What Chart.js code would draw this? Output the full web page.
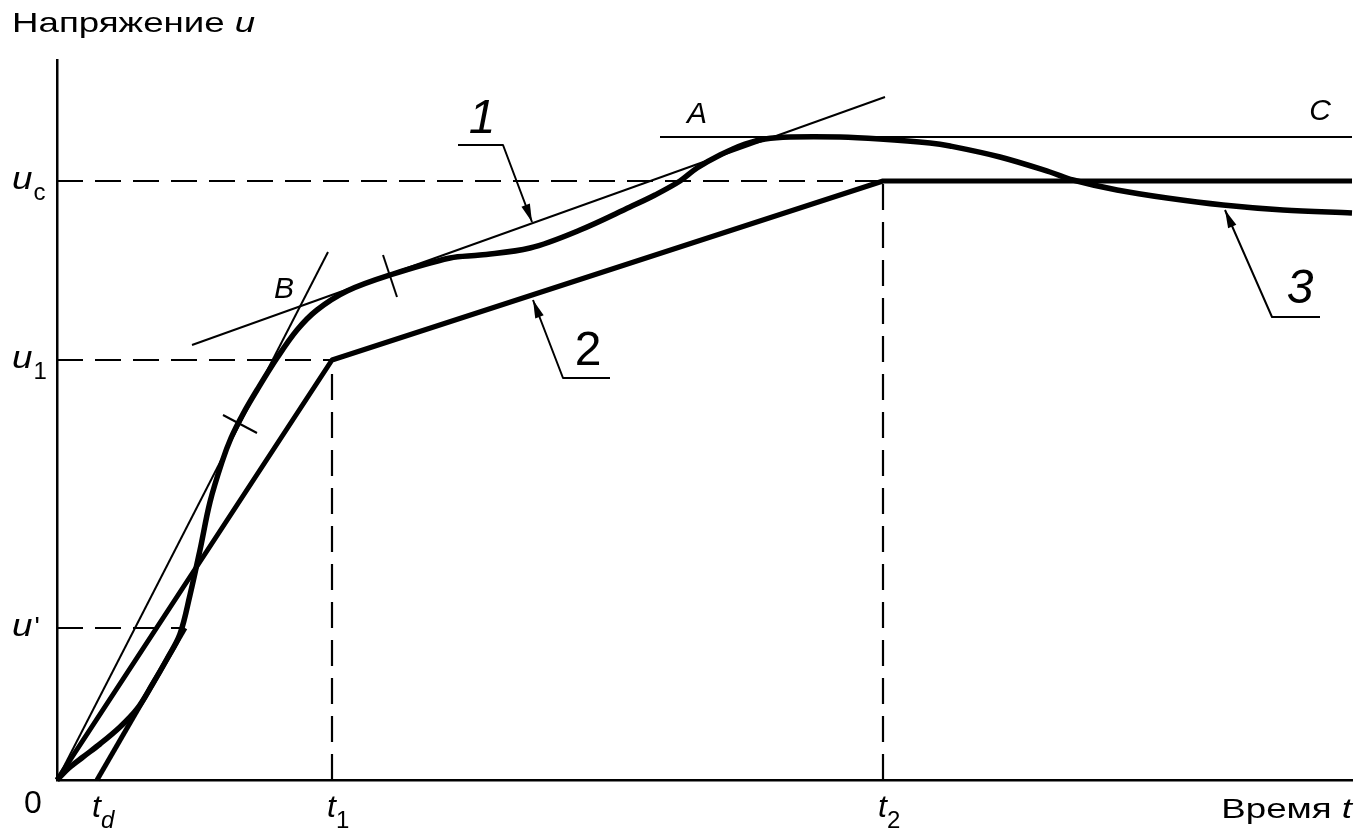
<!DOCTYPE html>
<html>
<head>
<meta charset="utf-8">
<script src="https://cdn.jsdelivr.net/npm/chart.js@4.4.1/dist/chart.umd.min.js"></script>
<style>
  html, body { margin: 0; padding: 0; background: #fff; }
  canvas { display: block; }
</style>
</head>
<body>
<canvas id="myChart" width="1362" height="833"></canvas>
<script>
// axes in arbitrary units
const tMax = 129.5, uMax = 72.0;
const tD = 4.0, t1 = 27.5, t2 = 82.6;
const uC = 59.9, u1 = 42.0, uP = 15.2;

// curve 3 - real voltage
const curveT = [0, 1.2, 2.6, 4.3, 6.3, 8.0, 9.5, 11.0, 12.3, 13.3, 14.3, 15.3, 16.5, 17.4, 18.6, 20.0, 22.0, 24.0, 26.0, 29.0, 33.3, 39.3,
  42.3, 47.3, 52.3, 57.3, 59.8, 62.3, 64.0, 66.3, 68.8, 70.8, 73.3, 78.3, 82.3, 87.3, 89.3, 94.3, 99.3, 101.6, 106.0, 111.0,
  116.6, 122.6, 129.5];
const curveU = [0, 1.2, 2.3, 3.6, 5.3, 7.1, 9.5, 12.1, 14.6, 18.5, 23.0, 27.8, 31.8, 34.2, 36.6, 39.0, 42.2, 45.0, 47.0, 48.9, 50.5, 52.2,
  52.5, 53.2, 55.0, 57.3, 58.5, 59.9, 61.2, 62.5, 63.6, 64.1, 64.3, 64.3, 64.1, 63.7, 63.4, 62.3, 60.8, 60.0, 59.0, 58.2,
  57.5, 57.0, 56.7];

// curve 2 - piecewise
const line2T = [0, t1, t2, tMax];
const line2U = [0, u1, uC, uC];

// ramp from t_d
const rampT = [tD, 12.8];
const rampU = [0, uP];

// thin tangents and level A-C
const steepT = [0, 27.1], steepU = [0, 52.8];
const shallowT = [13.5, 82.8], shallowU = [43.5, 68.3];
const levelT = [60.3, tMax], levelU = [64.3, 64.3];

// short marks across curve 3
const mark1T = [16.6, 20.0], mark1U = [36.5, 34.7];
const mark2T = [32.6, 34.0], mark2U = [52.5, 48.3];

// leaders (arrow at last point)
const lead1T = [40.1, 44.6, 47.5], lead1U = [63.5, 63.5, 55.8];
const lead2T = [55.3, 50.6, 47.6], lead2U = [40.2, 40.2, 48.0];
const lead3T = [126.3, 121.5, 116.8], lead3U = [46.3, 46.3, 57.0];

// tick labels
const tTicks = [tD, t1, t2], tNames = ['d', '1', '2'];
const uTicks = [uC, u1, uP], uNames = ['c', '1', "'"];

// notes on the plot
const noteText = ['1', '2', '3', 'A', 'B', 'C'];
const noteT = [42.5, 53.1, 124.3, 64.0, 22.7, 126.3];
const noteU = [66.0, 42.8, 49.0, 66.5, 49.0, 66.8];

const FONT = "'Liberation Sans', Arial, sans-serif";

function seg(xs, ys, width, extra) {
  return Object.assign({
    data: xs.map((x, i) => ({ x: x, y: ys[i] })),
    borderColor: '#000',
    borderWidth: width,
    pointRadius: 0,
    showLine: true,
    clip: false,
    tension: 0,
    borderJoinStyle: 'round'
  }, extra || {});
}

const dash = [26, 12];
const datasets = [
  seg([0, t2], [uC, uC], 2.2, { borderDash: dash }),
  seg([0, t1], [u1, u1], 2.2, { borderDash: dash }),
  seg([0, 12.6], [uP, uP], 2.2, { borderDash: dash }),
  seg([t1, t1], [0, u1], 2.2, { borderDash: dash }),
  seg([t2, t2], [0, uC], 2.2, { borderDash: dash }),
  seg(steepT, steepU, 2),
  seg(shallowT, shallowU, 2),
  seg(levelT, levelU, 2),
  seg(mark1T, mark1U, 2),
  seg(mark2T, mark2U, 2),
  seg(lead1T, lead1U, 2, { arrow: true }),
  seg(lead2T, lead2U, 2, { arrow: true }),
  seg(lead3T, lead3U, 2, { arrow: true }),
  seg(line2T, line2U, 5),
  seg(rampT, rampU, 5),
  seg(curveT, curveU, 5.5, { tension: 0.35 })
];

// arrow heads on leaders
const arrows = {
  id: 'arrows',
  afterDatasetsDraw(chart) {
    const ctx = chart.ctx;
    chart.data.datasets.forEach((ds, i) => {
      if (!ds.arrow) return;
      const pts = chart.getDatasetMeta(i).data;
      const a = pts[pts.length - 2], b = pts[pts.length - 1];
      const ang = Math.atan2(b.y - a.y, b.x - a.x);
      ctx.save();
      ctx.translate(b.x, b.y);
      ctx.rotate(ang);
      ctx.beginPath();
      ctx.moveTo(0, 0);
      ctx.lineTo(-18, -4.5);
      ctx.lineTo(-18, 4.5);
      ctx.closePath();
      ctx.fillStyle = '#000';
      ctx.fill();
      ctx.restore();
    });
  }
};

// text drawn with horizontal stretch, parts = [[text, font], ...]
function wide(ctx, parts, x, y, sx, align) {
  let total = 0;
  parts.forEach(p => { ctx.font = p[1]; total += ctx.measureText(p[0]).width * sx; });
  if (align === 'right') x -= total;
  parts.forEach(p => {
    ctx.font = p[1];
    const w = ctx.measureText(p[0]).width;
    ctx.save();
    ctx.translate(x, y);
    ctx.scale(sx, 1);
    ctx.fillText(p[0], 0, 0);
    ctx.restore();
    x += w * sx;
  });
}

const labels = {
  id: 'labels',
  afterDraw(chart) {
    const ctx = chart.ctx;
    const xs = chart.scales.x, ys = chart.scales.y;
    ctx.save();
    ctx.fillStyle = '#000';
    ctx.textAlign = 'left';
    ctx.textBaseline = 'alphabetic';

    // axis titles
    wide(ctx, [['Напряжение ', '28px ' + FONT], ['u', 'italic 28px ' + FONT]], 12, 32, 1.31);
    wide(ctx, [['Время ', '28px ' + FONT], ['t', 'italic 28px ' + FONT]], 1352, 818, 1.31, 'right');

    // u ticks
    uTicks.forEach((v, i) => {
      const py = ys.getPixelForValue(v);
      ctx.font = 'italic 32px ' + FONT;
      wide(ctx, [['u', 'italic 32px ' + FONT]], 12, py + 8, 1.15);
      const w = ctx.measureText('u').width * 1.15;
      if (uNames[i] === "'") {
        ctx.font = '28px ' + FONT;
        ctx.fillText("'", 12 + w + 2, py + 8);
      } else {
        ctx.font = '24px ' + FONT;
        ctx.fillText(uNames[i], 12 + w + 1, py + 19);
      }
    });

    // t ticks
    const y0 = ys.getPixelForValue(0);
    tTicks.forEach((v, i) => {
      const px = xs.getPixelForValue(v);
      ctx.font = 'italic 32px ' + FONT;
      const w = ctx.measureText('t').width;
      ctx.fillText('t', px + 4 - w, y0 + 37);
      ctx.font = (tNames[i] === 'd' ? 'italic ' : '') + '24px ' + FONT;
      ctx.fillText(tNames[i], px + 4, y0 + 48);
    });
    ctx.font = '32px ' + FONT;
    ctx.textAlign = 'center';
    ctx.fillText('0', xs.getPixelForValue(0) - 24, y0 + 33);

    // notes
    ctx.textBaseline = 'middle';
    noteText.forEach((s, i) => {
      const big = /[0-9]/.test(s);
      ctx.font = (s === '2' ? '' : 'italic ') + (big ? '48px ' : '30px ') + FONT;
      ctx.fillText(s, xs.getPixelForValue(noteT[i]), ys.getPixelForValue(noteU[i]));
    });
    ctx.restore();
  }
};

const ctx = document.getElementById('myChart').getContext('2d');
new Chart(ctx, {
  type: 'scatter',
  data: { datasets: datasets },
  options: {
    responsive: false,
    animation: false,
    devicePixelRatio: 1,
    layout: { padding: { left: 57, right: 10, top: 60, bottom: 53 } },
    plugins: { legend: { display: false }, tooltip: { enabled: false } },
    scales: {
      x: {
        type: 'linear', min: 0, max: tMax,
        grid: { display: false, drawTicks: false },
        ticks: { display: false },
        border: { display: true, color: '#000', width: 2.5 }
      },
      y: {
        type: 'linear', min: 0, max: uMax,
        grid: { display: false, drawTicks: false },
        ticks: { display: false },
        border: { display: true, color: '#000', width: 2.5 }
      }
    }
  },
  plugins: [arrows, labels]
});
</script>
</body>
</html>
